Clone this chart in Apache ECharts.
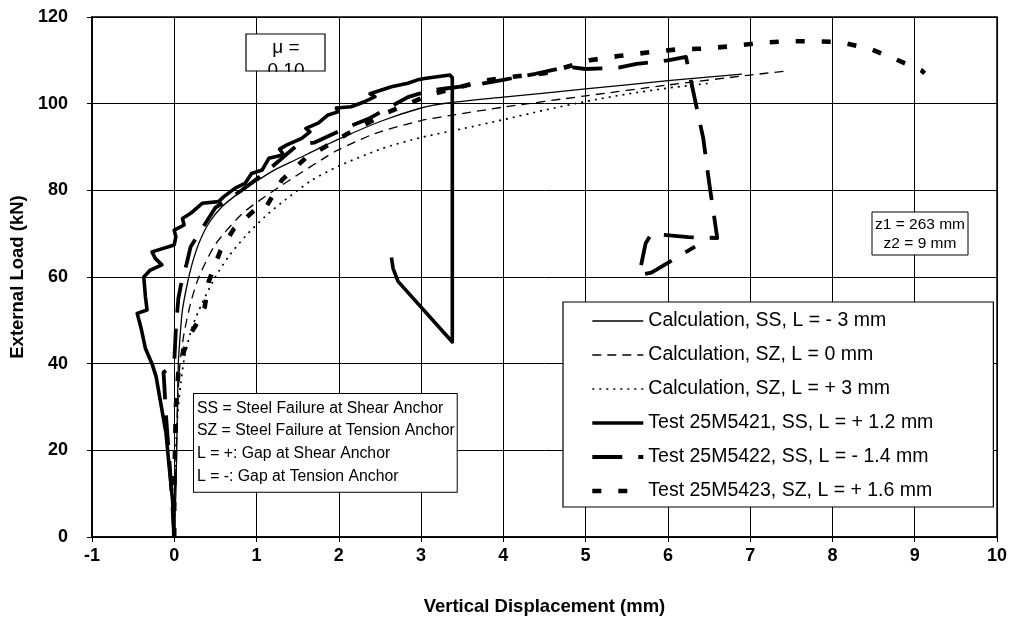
<!DOCTYPE html>
<html><head><meta charset="utf-8">
<script src="https://cdn.jsdelivr.net/npm/echarts@6/dist/echarts.min.js"></script>
<style>html,body{margin:0;padding:0;background:#fff}#c{width:1014px;height:628px}</style>
</head><body><div id="c"></div>
<script>
// ---- data (x = vertical displacement mm, y = external load kN) ----
const calcSS = [[0,0],[0.02,10],[0.03,20],[0.04,30],[0.05,40],[0.07,46],[0.1,52.4],[0.16,58.5],[0.22,63.2],[0.3,67.8],[0.42,72.4],[0.58,76.2],[0.78,79.3],[0.96,81.6],[1.2,84.5],[1.47,87],[2.0,91.8],[2.52,96],[3.0,99],[3.3,100.1],[4.0,101.5],[5.0,103.4],[6.0,105.3],[6.9,106.8]];
const calcSZ0 = [[0,0],[0.02,15],[0.04,30],[0.07,40],[0.12,47],[0.2,54],[0.3,60],[0.5,67.5],[0.82,74.5],[1.1,78.5],[1.39,82.2],[1.87,88],[2.0,89.4],[2.44,93.1],[3.0,96.1],[3.4,97.4],[4.0,99.2],[5.0,101.8],[6.0,104.3],[7.0,106.6],[7.42,107.5]];
const calcSZ3 = [[0,0],[0.01,10],[0.02,20],[0.04,27.7],[0.08,35.5],[0.13,42],[0.22,48.5],[0.34,54],[0.5,60],[0.66,64.7],[0.86,69.3],[1.1,73.9],[1.35,77.8],[1.67,82.3],[2.0,85.6],[2.52,89.6],[3.0,92.2],[3.5,94.2],[4.0,96.3],[4.5,98.5],[5.0,100.5],[5.5,102.2],[6.0,103.6],[6.55,104.8]];
const test5421 = [[0,0],[-0.02,8.5],[-0.06,16],[-0.1,24],[-0.17,31.6],[-0.22,37],[-0.27,40],[-0.35,43.5],[-0.4,48],[-0.45,51.6],[-0.33,52.4],[-0.35,55.5],[-0.37,60],[-0.29,61.6],[-0.15,62.8],[-0.23,64.3],[-0.27,65.8],[0,67.4],[0.02,69.3],[0,70.8],[0.12,72],[0.1,73.5],[0.2,74.7],[0.34,77],[0.54,77.4],[0.6,78.5],[0.74,80.5],[0.86,81.6],[0.94,83.9],[1.07,84.7],[1.15,87.4],[1.33,88.2],[1.28,89.5],[1.37,90.5],[1.55,92],[1.65,93.5],[1.6,94.3],[1.75,95.5],[1.87,97.4],[1.99,98.1],[1.97,99.0],[2.15,99.3],[2.32,100.5],[2.44,101.6],[2.38,102.3],[2.64,103.9],[2.84,104.7],[2.96,105.5],[3.04,105.8],[3.35,106.6],[3.38,106],[3.38,45],[2.72,59],[2.66,62],[2.64,64.5]];
const test5422 = [[0,0],[-0.03,10],[-0.06,18],[-0.1,28],[-0.12,35],[-0.13,38],[-0.05,39],[0.0,40],[0.02,48],[0.05,55],[0.08,58],[0.15,63],[0.2,67],[0.3,70],[0.5,76],[0.82,80],[1.1,84],[1.5,90.5],[1.7,91],[2.1,94.5],[2.36,96.5],[2.6,99],[2.84,101.5],[3.1,103],[3.3,103.5],[3.7,104.5],[4.0,105.5],[4.39,106.9],[4.78,108.5],[5.0,108],[5.4,108.3],[5.62,109.2],[6.0,110],[6.22,110.8],[6.3,103.5],[6.43,92],[6.5,82],[6.55,75.5],[6.6,69],[6.25,69.2],[5.8,70],[5.73,67.8],[5.65,60.5],[5.8,61],[6.33,67]];
const test5423 = [[0,0],[0.0,10],[0.01,20],[0.02,30],[0.05,38],[0.12,43],[0.2,47],[0.3,50],[0.37,53],[0.42,59],[0.56,66],[0.72,71],[0.98,75.5],[1.09,75.3],[1.31,82.4],[1.6,87.5],[2.1,93],[2.6,98],[3.1,102],[3.4,103.5],[3.8,105.4],[4.1,106.2],[4.5,107],[5.05,110],[5.4,111],[5.75,111.8],[6.1,112.5],[6.4,112.7],[6.75,113.2],[7.1,114],[7.45,114.4],[7.8,114.4],[8.1,114.2],[8.45,112.7],[8.75,110.4],[9.08,107.7],[9.12,107]];
const seriesNames = ['Calculation, SS, L = - 3 mm','Calculation, SZ, L = 0 mm','Calculation, SZ, L = + 3 mm','Test 25M5421, SS, L = + 1.2 mm','Test 25M5422, SS, L = - 1.4 mm','Test 25M5423, SZ, L = + 1.6 mm'];
const xRange = [-1, 10, 1];
const yRange = [0, 120, 20];
const xTitle = 'Vertical Displacement (mm)';
const yTitle = 'External Load (kN)';
const noteText = 'SS = Steel Failure at Shear Anchor\nSZ = Steel Failure at Tension Anchor\nL = +: Gap at Shear Anchor\nL = -: Gap at Tension Anchor';
const zText = 'z1 = 263 mm\nz2 = 9 mm';
const muText = ['μ =', '0.10'];

// ---- styles ----
const styles = [
  {width:1.3, type:'solid'},
  {width:1.3, type:[9,6]},
  {width:1.7, type:[2,5]},
  {width:3.6, type:'solid'},
  {width:3.8, type:[30,16]},
  {width:4.6, type:[9,17]}
];
const dataSets = [calcSS, calcSZ0, calcSZ3, test5421, test5422, test5423];
const FONT = "'Liberation Sans', Arial, sans-serif";

const chart = echarts.init(document.getElementById('c'), null, {renderer:'canvas'});
chart.setOption({
  animation:false,
  backgroundColor:'#fff',
  grid:{left:89, right:17, top:17, bottom:91, show:true, borderColor:'#000', borderWidth:1.5},
  xAxis:{type:'value', min:xRange[0], max:xRange[1], interval:xRange[2],
    name:xTitle, nameLocation:'middle', nameGap:60,
    nameTextStyle:{fontFamily:FONT, fontWeight:'bold', fontSize:18.5, color:'#000'},
    axisLine:{show:true, onZero:false, lineStyle:{color:'#000', width:1.5}},
    axisTick:{show:true, length:5, lineStyle:{color:'#000'}},
    axisLabel:{margin:10, fontFamily:FONT, fontWeight:'bold', fontSize:18, color:'#000'},
    splitLine:{show:true, lineStyle:{color:'#000', width:1}}},
  yAxis:{type:'value', min:yRange[0], max:yRange[1], interval:yRange[2],
    name:yTitle, nameLocation:'middle', nameGap:52, nameRotate:90,
    nameTextStyle:{fontFamily:FONT, fontWeight:'bold', fontSize:18.5, color:'#000'},
    axisLine:{show:true, onZero:false, lineStyle:{color:'#000', width:1.5}},
    axisTick:{show:true, length:5, lineStyle:{color:'#000'}},
    axisLabel:{margin:24, fontFamily:FONT, fontWeight:'bold', fontSize:18, color:'#000'},
    splitLine:{show:true, lineStyle:{color:'#000', width:1}}},
  legend:{orient:'vertical', left:563, top:302, selectedMode:false,
    itemWidth:51, itemHeight:14, itemGap:14,
    padding:[9,60,6,27], borderColor:'#000', borderWidth:1.2, backgroundColor:'#fff',
    textStyle:{fontFamily:FONT, fontSize:19.5, color:'#000', lineHeight:20},
    data: seriesNames.map((n,i)=>({name:n, itemStyle:{opacity:0, color:'rgba(0,0,0,0)', borderWidth:0},
      lineStyle:{width:styles[i].width, type:styles[i].type, color:'#000'}}))},
  series: dataSets.map((d,i)=>({
    name:seriesNames[i], type:'line', data:d, symbol:'none', showSymbol:false,
    smooth: i<3 ? 0.25 : false, z: i<3 ? 3 : 2,
    lineStyle:{color:'#000', width:styles[i].width, type:styles[i].type, cap:'butt', join:'round'},
    itemStyle:{color:'#000'}
  })),
  graphic:[
    {type:'text', left:193, top:393, z:100, style:{text:noteText, font:"15.8px "+FONT, fill:'#000', lineHeight:22.7,
      backgroundColor:'#fff', borderColor:'#000', borderWidth:1, padding:[3,2,4,3]}},
    {type:'rect', z:100, shape:{x:872, y:212, width:96, height:43}, style:{fill:'#fff', stroke:'#000', lineWidth:1}},
    {type:'text', z:101, x:920, y:215, style:{text:zText, font:"15.5px "+FONT, fill:'#000', align:'center', verticalAlign:'top', lineHeight:19}},
    {type:'rect', z:100, shape:{x:246, y:34, width:79, height:37}, style:{fill:'#fff', stroke:null}},
    {type:'text', z:101, x:286, y:48, style:{text:muText[0], font:"19px "+FONT, fill:'#000', align:'center', verticalAlign:'middle'}},
    {type:'text', z:101, x:286, y:71, style:{text:muText[1], font:"19px "+FONT, fill:'#000', align:'center', verticalAlign:'middle'}},
    {type:'rect', z:102, shape:{x:262, y:71.8, width:50, height:14}, style:{fill:'#fff', stroke:null}},
    {type:'rect', z:103, shape:{x:246, y:34, width:79, height:37}, style:{fill:null, stroke:'#000', lineWidth:1.2}}
  ]
});
</script></body></html>
